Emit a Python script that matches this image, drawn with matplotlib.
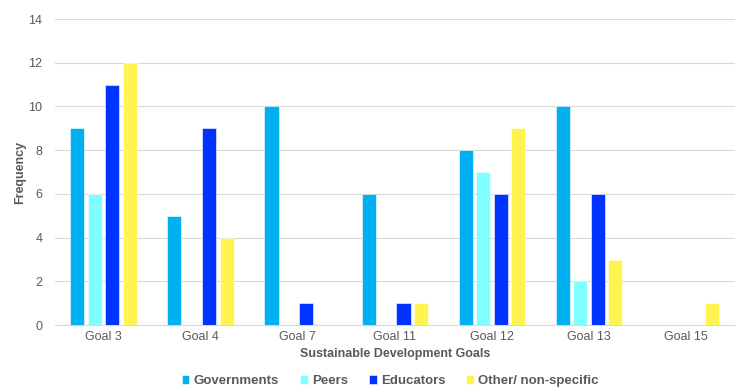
import numpy as np
import matplotlib.pyplot as plt

plt.rcParams['font.family'] = ['Liberation Sans', 'DejaVu Sans']

goals = ['Goal 3', 'Goal 4', 'Goal 7', 'Goal 11', 'Goal 12', 'Goal 13', 'Goal 15']
governments = [9, 5, 10, 6, 8, 10, 0]
peers = [6, 0, 0, 0, 7, 2, 0]
educators = [11, 9, 1, 1, 6, 6, 0]
other = [12, 4, 0, 1, 9, 3, 1]

series = [('Governments', governments, '#00B0F0'),
          ('Peers', peers, '#7FFFFF'),
          ('Educators', educators, '#0033FF'),
          ('Other/ non-specific', other, '#FFF44F')]

fig = plt.figure(figsize=(7.36, 3.88), dpi=100)
ax = fig.add_axes([0.0747, 0.162, 0.9233, 0.789])

x = np.arange(len(goals))
pitch = 0.18
width = 0.145
for i, (name, vals, col) in enumerate(series):
    ax.bar(x + (i - 1.5) * pitch, vals, width, color=col, label=name,
           edgecolor='white', linewidth=0.4, zorder=3)

ax.set_xlim(-0.5, len(goals) - 0.5)
ax.set_ylim(0, 14)
ax.set_yticks(range(0, 15, 2))
ax.set_xticks(x)
ax.set_xticklabels(goals)
ax.grid(axis='y', color='#D9D9D9', linewidth=0.8, zorder=0)
for s in ['top', 'right', 'left']:
    ax.spines[s].set_visible(False)
ax.spines['bottom'].set_color('#D9D9D9')
ax.tick_params(axis='both', length=0, labelsize=9, labelcolor='#595959')
ax.tick_params(axis='y', pad=9)
ax.tick_params(axis='x', pad=4)

ax.set_xlabel('Sustainable Development Goals', fontsize=9, fontweight='bold',
              color='#595959', labelpad=4)
ax.set_ylabel('Frequency', fontsize=9, fontweight='bold', color='#595959',
              labelpad=2)

fig.legend(loc='lower center', bbox_to_anchor=(0.53, -0.028), ncol=4,
           frameon=False, handlelength=0.6, handleheight=0.6,
           handletextpad=0.3, columnspacing=1.6,
           prop={'weight': 'bold', 'size': 9.5})
for t in fig.legends[0].get_texts():
    t.set_color('#595959')

fig.savefig('out.png', dpi=100)
